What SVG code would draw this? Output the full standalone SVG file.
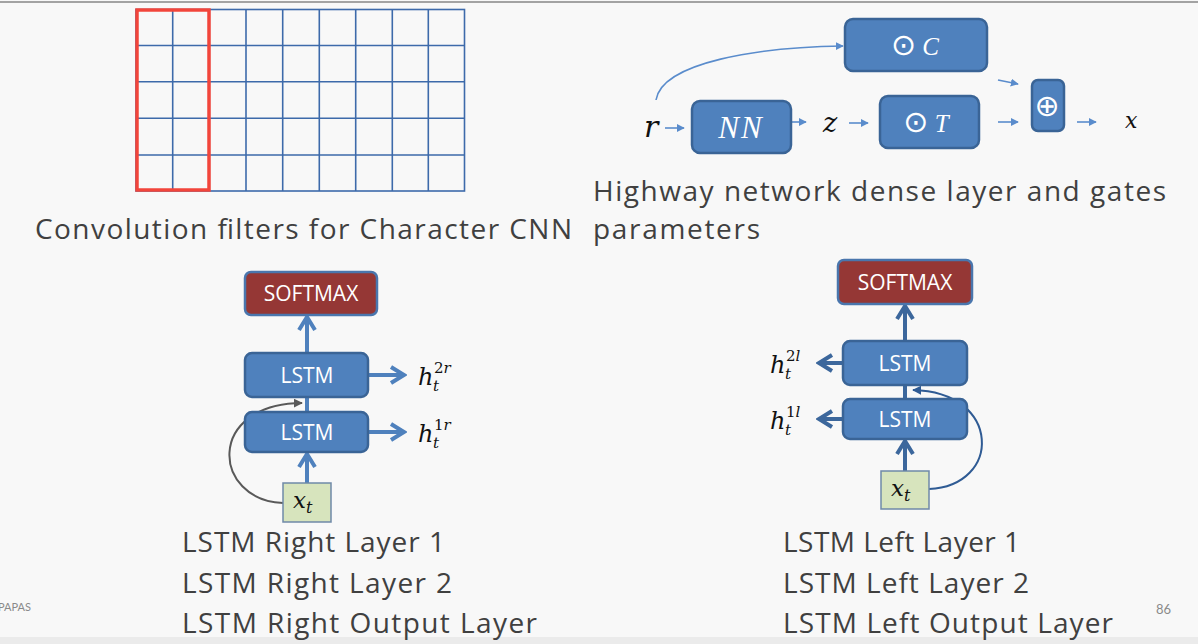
<svg xmlns="http://www.w3.org/2000/svg" width="1198" height="644" viewBox="0 0 1198 644">
<style>
.bx{fill:#4f81bd;stroke:#3a6496;stroke-width:2.5}
.sm{fill:#953735;stroke:#4a76ad;stroke-width:2.5}
.xt{fill:#d7e4bd;stroke:#6f89a8;stroke-width:1.5}
.wt{fill:#fff;font-family:"Open Sans","Liberation Sans",sans-serif;font-size:21px;text-anchor:middle}
.mt{font-family:"DejaVu Serif","Liberation Serif",serif;font-style:italic;fill:#111}
.cap{font-family:"Open Sans","Liberation Sans",sans-serif;fill:#404040;font-size:28px}
.g{stroke:#3d6aaa;stroke-width:1.6;fill:none}
.ha{stroke:#5a8ccc;stroke-width:1.6;fill:none;marker-end:url(#tri)}
.la{stroke:#4f81bd;stroke-width:4;fill:none}
.ra{stroke:#3c679c;stroke-width:4;fill:none}
</style>
<defs>
<marker id="tri" viewBox="0 0 10 10" refX="9" refY="5" markerWidth="8" markerHeight="8" markerUnits="userSpaceOnUse" orient="auto"><path d="M0,0 L10,5 L0,10 z" fill="#5a8ccc"/></marker>
<marker id="chL" viewBox="0 0 20 20" refX="17" refY="10" markerWidth="20" markerHeight="20" markerUnits="userSpaceOnUse" orient="auto"><path d="M4,2 L17,10 L4,18" fill="none" stroke="#4f81bd" stroke-width="4"/></marker>
<marker id="chR" viewBox="0 0 20 20" refX="17" refY="10" markerWidth="20" markerHeight="20" markerUnits="userSpaceOnUse" orient="auto"><path d="M4,2 L17,10 L4,18" fill="none" stroke="#3c679c" stroke-width="4"/></marker>
<marker id="gr" viewBox="0 0 10 10" refX="9" refY="5" markerWidth="9" markerHeight="9" markerUnits="userSpaceOnUse" orient="auto"><path d="M0,0 L10,5 L0,10 z" fill="#595959"/></marker>
<marker id="db" viewBox="0 0 10 10" refX="9" refY="5" markerWidth="9" markerHeight="9" markerUnits="userSpaceOnUse" orient="auto"><path d="M0,0 L10,5 L0,10 z" fill="#2f5b94"/></marker>
</defs>
<rect width="1198" height="644" fill="#f8f8f8"/>
<rect x="0" y="637" width="1198" height="7" fill="#ebebeb"/>
<line x1="0" y1="2" x2="1198" y2="2" stroke="#a3a3a3" stroke-width="2"/>

<g id="grid">
<g class="g">
<rect x="136" y="9.5" width="328.5" height="181.5"/>
<line x1="172.7" y1="9.5" x2="172.7" y2="191"/>
<line x1="209.3" y1="9.5" x2="209.3" y2="191"/>
<line x1="246" y1="9.5" x2="246" y2="191"/>
<line x1="282.7" y1="9.5" x2="282.7" y2="191"/>
<line x1="319.3" y1="9.5" x2="319.3" y2="191"/>
<line x1="355.7" y1="9.5" x2="355.7" y2="191"/>
<line x1="392.3" y1="9.5" x2="392.3" y2="191"/>
<line x1="428.3" y1="9.5" x2="428.3" y2="191"/>
<line x1="136" y1="45.5" x2="464.5" y2="45.5"/>
<line x1="136" y1="81.7" x2="464.5" y2="81.7"/>
<line x1="136" y1="118.3" x2="464.5" y2="118.3"/>
<line x1="136" y1="155" x2="464.5" y2="155"/>
</g>
<rect x="137" y="10" width="72" height="180" fill="none" stroke="#f2453b" stroke-width="3.5"/>
</g>
<text class="cap" x="35" y="239" textLength="537">Convolution filters for Character CNN</text>

<g id="connectors">
<path class="ha" d="M665,128 L684,128"/>
<path class="ha" d="M792,122 L806,122"/>
<path class="ha" d="M849,123 L868,123"/>
<path class="ha" d="M998,80 L1018,84"/>
<path class="ha" d="M998,122 L1018,122"/>
<path class="ha" d="M1077,122 L1096,122"/>
<path class="ha" d="M656,100 C662,62 760,47 843,46"/>

<path class="la" d="M307,483 L307,454" marker-end="url(#chL)"/>
<path class="la" d="M307,412 L307,397"/>
<path class="la" d="M307,353 L307,317" marker-end="url(#chL)"/>
<path class="la" d="M368,375 L404,375" marker-end="url(#chL)"/>
<path class="la" d="M368,432 L404,432" marker-end="url(#chL)"/>
<path d="M283,503 C212,500 205,404 302,403" fill="none" stroke="#595959" stroke-width="2" marker-end="url(#gr)"/>

<path class="ra" d="M905,471 L905,441" marker-end="url(#chR)"/>
<path class="ra" d="M905,399 L905,385"/>
<path class="ra" d="M905,341 L905,306" marker-end="url(#chR)"/>
<path class="ra" d="M843,363 L819,363" marker-end="url(#chR)"/>
<path class="ra" d="M843,419 L819,419" marker-end="url(#chR)"/>
<path d="M929,489 C1002,486 1002,392 913,390" fill="none" stroke="#2f5b94" stroke-width="2" marker-end="url(#db)"/>
</g>

<g id="r"><text class="mt" x="644" y="137" font-size="30">r</text></g>
<g id="nn"><rect class="bx" x="692" y="101" width="99" height="52" rx="8"/><text x="741" y="138" fill="#fff" font-family="Liberation Serif,serif" font-style="italic" font-size="31" text-anchor="middle" letter-spacing="2">NN</text></g>
<g id="z"><text class="mt" x="823" y="132" font-size="27">z</text></g>
<g id="gc"><rect class="bx" x="845" y="19" width="142" height="52" rx="8"/><text x="915" y="55" fill="#fff" font-size="30" text-anchor="middle"><tspan font-family="DejaVu Sans,sans-serif">⊙</tspan><tspan font-family="Liberation Serif,serif" font-style="italic" font-size="25"> C</tspan></text></g>
<g id="gt"><rect class="bx" x="880" y="96" width="99" height="52" rx="8"/><text x="926" y="132" fill="#fff" font-size="30" text-anchor="middle"><tspan font-family="DejaVu Sans,sans-serif">⊙</tspan><tspan font-family="Liberation Serif,serif" font-style="italic" font-size="25"> T</tspan></text></g>
<g id="plus"><rect class="bx" x="1032" y="80" width="32" height="51" rx="6"/><text x="1047" y="116" fill="#fff" font-family="DejaVu Sans,sans-serif" font-size="30" text-anchor="middle">⊕</text></g>
<g id="x"><text class="mt" x="1125" y="128" font-size="22">x</text></g>
<text class="cap" x="593" y="201" textLength="573">Highway network dense layer and gates</text>
<text class="cap" x="593" y="239" textLength="167">parameters</text>

<g id="smR"><rect class="sm" x="245" y="272" width="132" height="43" rx="6"/><text class="wt" x="311" y="301">SOFTMAX</text></g>
<g id="lstmR2"><rect class="bx" x="245" y="353" width="123" height="44" rx="7"/><text class="wt" x="307" y="383">LSTM</text></g>
<g id="lstmR1"><rect class="bx" x="245" y="412" width="123" height="40" rx="7"/><text class="wt" x="307" y="440">LSTM</text></g>
<g id="xtR"><rect class="xt" x="283" y="483" width="48" height="39"/><text class="mt" x="293" y="508" font-size="23">x<tspan font-size="16" dy="5">t</tspan></text></g>
<g id="h2r"><text class="mt" x="418" y="385" font-size="24">h</text><text class="mt" x="434" y="373" font-size="15"><tspan font-style="normal">2</tspan>r</text><text class="mt" x="433" y="391" font-size="15">t</text></g>
<g id="h1r"><text class="mt" x="418" y="442" font-size="24">h</text><text class="mt" x="434" y="430" font-size="15"><tspan font-style="normal">1</tspan>r</text><text class="mt" x="433" y="448" font-size="15">t</text></g>

<g id="smL"><rect class="sm" x="838" y="260" width="134" height="44" rx="6"/><text class="wt" x="905" y="290">SOFTMAX</text></g>
<g id="lstmL2"><rect class="bx" x="843" y="341" width="124" height="44" rx="7"/><text class="wt" x="905" y="371">LSTM</text></g>
<g id="lstmL1"><rect class="bx" x="843" y="399" width="124" height="40" rx="7"/><text class="wt" x="905" y="427">LSTM</text></g>
<g id="xtL"><rect class="xt" x="881" y="471" width="48" height="38"/><text class="mt" x="891" y="496" font-size="23">x<tspan font-size="16" dy="5">t</tspan></text></g>
<g id="h2l"><text class="mt" x="770" y="373" font-size="24">h</text><text class="mt" x="786" y="361" font-size="15"><tspan font-style="normal">2</tspan>l</text><text class="mt" x="785" y="379" font-size="15">t</text></g>
<g id="h1l"><text class="mt" x="770" y="429" font-size="24">h</text><text class="mt" x="786" y="417" font-size="15"><tspan font-style="normal">1</tspan>l</text><text class="mt" x="785" y="435" font-size="15">t</text></g>

<text class="cap" x="182" y="552" textLength="263">LSTM Right Layer 1</text>
<text class="cap" x="182" y="593" textLength="270">LSTM Right Layer 2</text>
<text class="cap" x="182" y="633" textLength="355">LSTM Right Output Layer</text>
<text class="cap" x="783" y="552" textLength="237">LSTM Left Layer 1</text>
<text class="cap" x="783" y="593" textLength="246">LSTM Left Layer 2</text>
<text class="cap" x="783" y="633" textLength="330">LSTM Left Output Layer</text>
<text x="-2" y="611" font-family="Lato,Liberation Sans,sans-serif" font-size="11" fill="#8a8a8a">PAPAS</text>
<text x="1156" y="614" font-family="Lato,Liberation Sans,sans-serif" font-size="13" fill="#8a8a8a">86</text>
</svg>
